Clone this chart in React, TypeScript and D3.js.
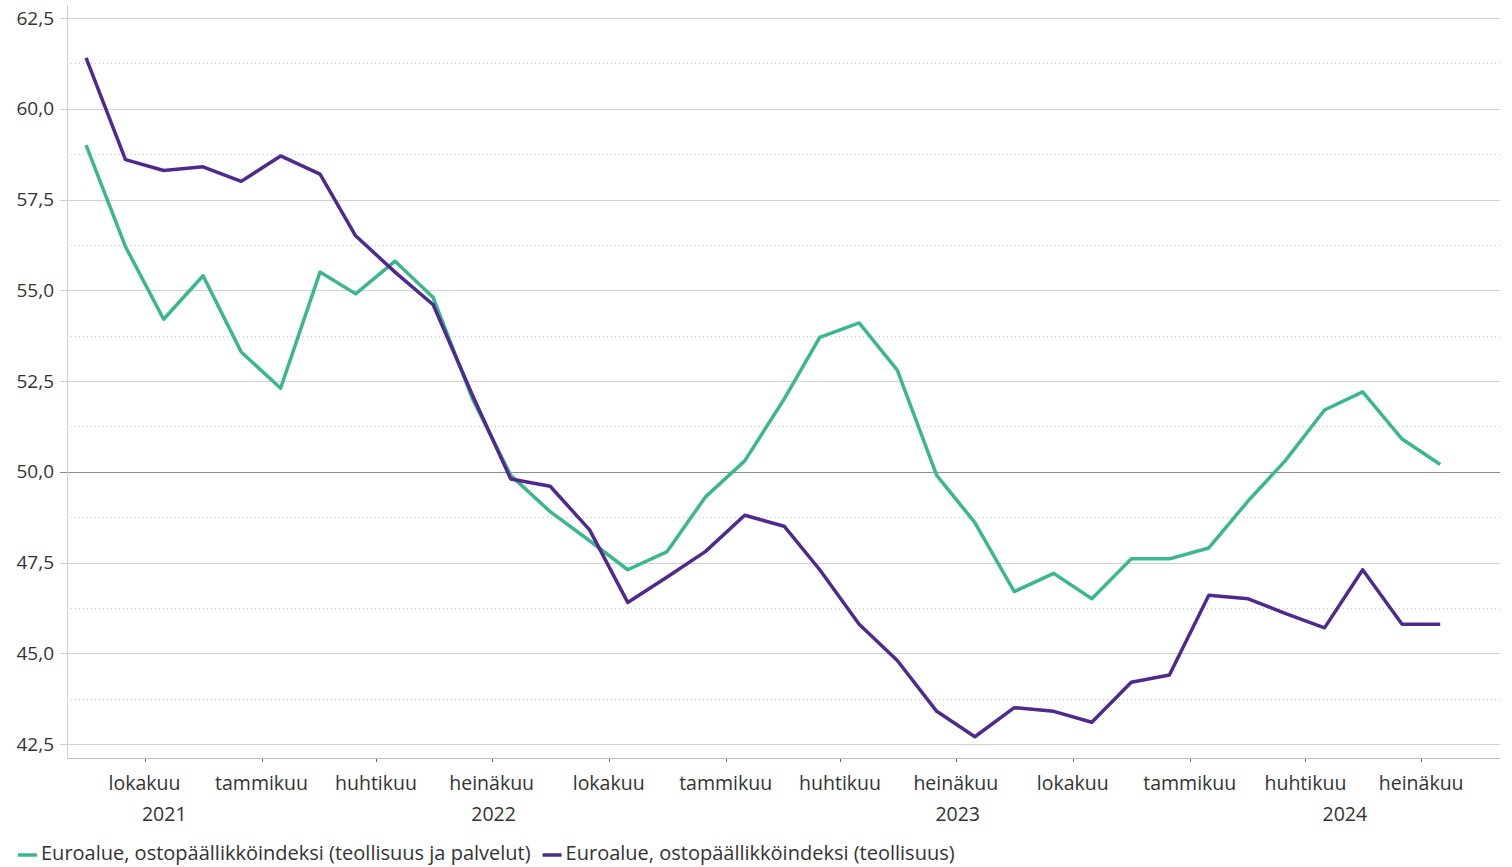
import React, { useEffect, useRef } from "react";
import * as d3 from "d3";

// kuukausittaiset havainnot 8/2021 - 7/2024
const startYear = 2021;
const startMonth = 7; // elokuu (0-index)
const composite = [
  59.0, 56.2, 54.2, 55.4, 53.3, 52.3, 55.5, 54.9, 55.8, 54.8, 52.0, 49.9,
  48.9, 48.1, 47.3, 47.8, 49.3, 50.3, 52.0, 53.7, 54.1, 52.8, 49.9, 48.6,
  46.7, 47.2, 46.5, 47.6, 47.6, 47.9, 49.2, 50.3, 51.7, 52.2, 50.9, 50.2,
];
const manufacturing = [
  61.4, 58.6, 58.3, 58.4, 58.0, 58.7, 58.2, 56.5, 55.5, 54.6, 52.1, 49.8,
  49.6, 48.4, 46.4, 47.1, 47.8, 48.8, 48.5, 47.3, 45.8, 44.8, 43.4, 42.7,
  43.5, 43.4, 43.1, 44.2, 44.4, 46.6, 46.5, 46.1, 45.7, 47.3, 45.8, 45.8,
];
const seriesNames = [
  "Euroalue, ostopäällikköindeksi (teollisuus ja palvelut)",
  "Euroalue, ostopäällikköindeksi (teollisuus)",
];
const colors = ["#3bb78f", "#4e2a8e"];
const monthNames: Record<number, string> = {
  0: "tammikuu",
  3: "huhtikuu",
  6: "heinäkuu",
  9: "lokakuu",
};
const yTicks = [42.5, 45, 47.5, 50, 52.5, 55, 57.5, 60, 62.5];

const W = 1512;
const H = 867;
const FONT = "'Open Sans', sans-serif";

export default function App() {
  const ref = useRef<SVGSVGElement>(null);

  useEffect(() => {
    const svg = d3.select(ref.current);
    svg.selectAll("*").remove();

    const left = 67, right = 1500, top = 18, bottom = 744, axisY = 758;
    const domStart = new Date(startYear, startMonth, 1);
    const domEnd = new Date(2024, 8, 1);
    const x = d3.scaleTime().domain([domStart, domEnd]).range([left, right]);
    const y = d3.scaleLinear().domain([42.5, 62.5]).range([bottom, top]);

    const dates = composite.map((_, i) => new Date(startYear, startMonth + i, 16));

    // minor grid
    const minor = d3.range(43.75, 62.5, 2.5);
    svg.append("g").selectAll("line").data(minor).enter().append("line")
      .attr("x1", left).attr("x2", right)
      .attr("y1", d => Math.round(y(d)) + 0.5).attr("y2", d => Math.round(y(d)) + 0.5)
      .attr("stroke", "#c8c8c8").attr("stroke-width", 1)
      .attr("stroke-dasharray", "1,3");

    // major grid
    svg.append("g").selectAll("line").data(yTicks).enter().append("line")
      .attr("x1", left - 7).attr("x2", right)
      .attr("y1", d => Math.round(y(d)) + 0.5).attr("y2", d => Math.round(y(d)) + 0.5)
      .attr("stroke", d => (d === 50 ? "#8c8c8c" : "#d0d0d0"))
      .attr("stroke-width", 1);

    svg.append("g").selectAll("text").data(yTicks).enter().append("text")
      .attr("x", 54).attr("y", d => y(d))
      .attr("dy", "0.35em")
      .attr("text-anchor", "end")
      .attr("font-family", FONT).attr("font-size", 19)
      .attr("fill", "#333")
      .text(d => d3.format(".1f")(d).replace(".", ","));

    // axes lines
    svg.append("line")
      .attr("x1", left + 0.5).attr("x2", left + 0.5).attr("y1", 5).attr("y2", axisY)
      .attr("stroke", "#cfcfcf");
    svg.append("line")
      .attr("x1", left).attr("x2", right).attr("y1", axisY + 0.5).attr("y2", axisY + 0.5)
      .attr("stroke", "#bcbcbc");

    // x ticks (quarters)
    const quarters = d3.timeMonth.every(3)!.range(domStart, domEnd)
      .filter(d => monthNames[d.getMonth()] !== undefined);
    const xt = svg.append("g");
    xt.selectAll("line").data(quarters).enter().append("line")
      .attr("x1", d => Math.round(x(d)) + 0.5).attr("x2", d => Math.round(x(d)) + 0.5)
      .attr("y1", axisY + 1).attr("y2", axisY + 4)
      .attr("stroke", "#666");
    xt.selectAll("text").data(quarters).enter().append("text")
      .attr("x", d => x(d)).attr("y", 790)
      .attr("text-anchor", "middle")
      .attr("font-family", FONT).attr("font-size", 19.5)
      .attr("fill", "#333")
      .text(d => monthNames[d.getMonth()]);

    // years
    const years = [2021, 2022, 2023, 2024];
    svg.append("g").selectAll("text").data(years).enter().append("text")
      .attr("x", yr => {
        const a = Math.max(+new Date(yr, 0, 1), +domStart);
        const b = Math.min(+new Date(yr + 1, 0, 1), +domEnd);
        return (x(new Date(a)) + x(new Date(b))) / 2;
      })
      .attr("y", 821)
      .attr("text-anchor", "middle")
      .attr("font-family", FONT).attr("font-size", 19.5)
      .attr("fill", "#333")
      .text(d => String(d));

    // lines
    const line = d3.line<number>()
      .x((_, i) => x(dates[i]))
      .y(d => y(d));
    [composite, manufacturing].forEach((s, k) => {
      svg.append("path")
        .datum(s)
        .attr("fill", "none")
        .attr("stroke", colors[k])
        .attr("stroke-width", 3.5)
        .attr("stroke-linejoin", "round")
        .attr("d", line);
    });

    // legend
    const lg = svg.append("g");
    let lx = 18;
    seriesNames.forEach((name, k) => {
      lg.append("line")
        .attr("x1", lx).attr("x2", lx + 19)
        .attr("y1", 855).attr("y2", 855)
        .attr("stroke", colors[k]).attr("stroke-width", 3.5);
      const t = lg.append("text")
        .attr("x", lx + 23).attr("y", 860)
        .attr("font-family", FONT).attr("font-size", 20)
        .attr("fill", "#333")
        .text(name);
      const w = (t.node() as SVGTextElement).getComputedTextLength();
      lx += 23 + w + 12;
    });
  }, []);

  return (
    <svg
      ref={ref}
      width={W}
      height={H}
      style={{ position: "absolute", left: 0, top: 0, background: "#fff" }}
    />
  );
}
